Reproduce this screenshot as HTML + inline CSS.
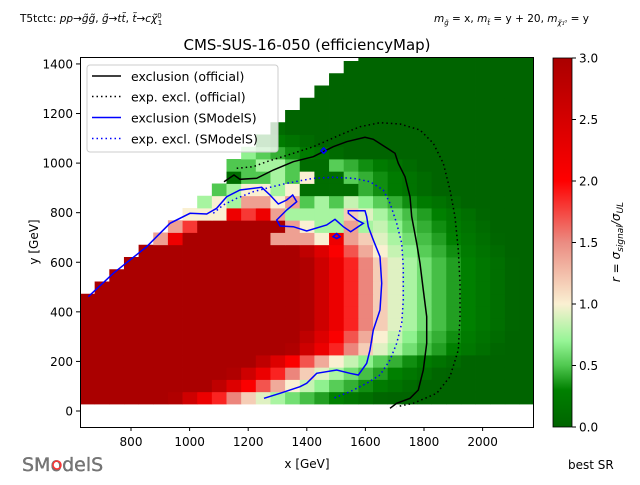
<!DOCTYPE html>
<html><head><meta charset="utf-8">
<style>
body{margin:0;background:#fff;}
svg text{font-family:"DejaVu Sans","Liberation Sans",sans-serif;}
</style></head>
<body>
<svg id="s" width="640" height="480" xmlns="http://www.w3.org/2000/svg">
<g id="cells"></g>
<defs>
<linearGradient id="cb" x1="0" y1="1" x2="0" y2="0">
<stop offset="0" stop-color="#006400"/>
<stop offset="0.1" stop-color="#008000"/>
<stop offset="0.167" stop-color="#50c850"/>
<stop offset="0.233" stop-color="#96f596"/>
<stop offset="0.333" stop-color="#faf0d2"/>
<stop offset="0.5" stop-color="#eb8c82"/>
<stop offset="0.667" stop-color="#ff0000"/>
<stop offset="1" stop-color="#aa0000"/>
</linearGradient>
</defs>
<g fill="none" stroke-width="1.5">
<polyline id="bs" stroke="#000"/>
<polyline id="bd" stroke="#000" stroke-dasharray="1.5,3"/>
<polyline id="ls" stroke="#0000ff"/>
<polyline id="ld" stroke="#0000ff" stroke-dasharray="1.5,3"/>
<polygon points="321,150.7 323.7,148 326.3,150.7 323.7,153.3" stroke="#0000ff"/>
<polygon points="333,236.7 336.7,233.5 340,236.7 336.7,238.5" stroke="#0000ff"/>
</g>
<rect x="80.5" y="57.5" width="453" height="370" fill="none" stroke="#000"/>
<g stroke="#000" id="ticks"></g>
<g font-size="12" id="labels"></g>
<!-- legend -->
<rect x="87" y="65" width="191" height="87" rx="3" fill="#fff" fill-opacity="0.8" stroke="#ccc"/>
<g stroke-width="1.5">
<line x1="92" y1="76" x2="121" y2="76" stroke="#000"/>
<line x1="92" y1="96.5" x2="121" y2="96.5" stroke="#000" stroke-dasharray="1.5,3"/>
<line x1="92" y1="117.5" x2="121" y2="117.5" stroke="#0000ff"/>
<line x1="92" y1="138.5" x2="121" y2="138.5" stroke="#0000ff" stroke-dasharray="1.5,3"/>
</g>
<g font-size="12.5">
<text x="131" y="81">exclusion (official)</text>
<text x="131" y="101.5">exp. excl. (official)</text>
<text x="131" y="122.5">exclusion (SModelS)</text>
<text x="131" y="143.5">exp. excl. (SModelS)</text>
</g>
<text x="307" y="50" font-size="15" text-anchor="middle">CMS-SUS-16-050 (efficiencyMap)</text>
<text x="20" y="22" font-size="10.5">T5tctc: <tspan font-style="italic">pp</tspan>→<tspan font-style="italic">g̃g̃</tspan>, <tspan font-style="italic">g̃</tspan>→<tspan font-style="italic">tt̃</tspan>, <tspan font-style="italic">t̃</tspan>→<tspan font-style="italic">cχ̃</tspan><tspan font-size="7" dy="-4">0</tspan><tspan font-size="7" dx="-4" dy="7">1</tspan></text>
<text x="434" y="22" font-size="10.5" font-style="italic">m<tspan font-size="7" dy="3">g̃</tspan><tspan dy="-3" font-style="normal"> = x, </tspan>m<tspan font-size="7" dy="3">t̃</tspan><tspan dy="-3" font-style="normal"> = y + 20, </tspan>m<tspan font-size="7" dy="3">χ̃₁⁰</tspan><tspan dy="-3" font-style="normal"> = y</tspan></text>
<text x="307" y="468" font-size="12" text-anchor="middle">x [GeV]</text>
<text transform="translate(38,242) rotate(-90)" font-size="12" text-anchor="middle">y [GeV]</text>
<rect x="553" y="58" width="19" height="369" fill="url(#cb)" stroke="#000" stroke-width="0.8"/>
<text transform="translate(620,242) rotate(-90)" font-size="12" text-anchor="middle" font-style="italic">r = σ<tspan font-size="9" dy="3">signal</tspan><tspan dy="-3">/σ</tspan><tspan font-size="9" dy="3">UL</tspan></text>
<text x="568" y="469" font-size="12">best SR</text>
<text x="22" y="471" font-size="19" fill="#777" stroke="#555" stroke-width="0.3">SModelS</text>
<circle cx="57" cy="465" r="4" fill="none" stroke="#f33" stroke-width="1.5"/>
</svg>
<script>
const NS="http://www.w3.org/2000/svg";
function el(t,a,p){const e=document.createElementNS(NS,t);for(const k in a)e.setAttribute(k,a[k]);if(p)p.appendChild(e);return e;}
const stops=[[0,[0,100,0]],[0.3,[0,128,0]],[0.5,[80,200,80]],[0.7,[150,245,150]],[1,[250,240,210]],[1.5,[235,140,130]],[2,[255,0,0]],[3,[170,0,0]]];
function col(r){r=Math.max(0,Math.min(3,r));for(let i=0;i<stops.length-1;i++){const[a,ca]=stops[i],[b,cb]=stops[i+1];if(r<=b){const t=(r-a)/(b-a);return`rgb(${ca.map((c,k)=>Math.round(c+(cb[k]-c)*t)).join(',')})`;}}return'rgb(170,0,0)';}
const LV={D:3,R:2.2,r:1.8,P:1.4,C:1.0,L:0.75,G:0.5,g:0.35,K:0.1};
const OV={13:"PRDDDDDDPPPCRP",14:"PrDDDDDDPCLLPL",15:"CCCRrRPLLLL",16:"LCLPPCPGLG",17:"GLCCLCKKKK",18:"KGGLGCKK",19:"GGLLGKK"};
const B=[11.5,14,15.5,17,19.5,20,20.5,20.5,20.5,20.5,20.5,20.5,20,19.5,19,18.5,17,15,15,14,9,7,5,4,3,2,1,0,0];
const g=document.getElementById('cells');
const cw=14.65,ch=12.25;
for(let j=0;j<29;j++){
 const start=j<9?0:Math.round((j-9)*18/19)+1;
 for(let i=start;i<31;i++){
  const d=i-B[j];
  let r=d<0?1+(-d)*0.35:(d<3?1-d*0.16:0.52-(d-3)*0.09);
  if(OV[j]&&i-start<OV[j].length)r=LV[OV[j][i-start]];
  let y=404-ch*(j+1),h=ch;
  if(y<58){h-=58-y;y=58;}
  if(h<=0)continue;
  let w=cw;const x=80+cw*i;if(x+w>533)w=533-x;
  el('rect',{x:x.toFixed(2),y:y.toFixed(2),width:(w+0.4).toFixed(2),height:(h+0.4).toFixed(2),fill:col(r)},g);
 }
}
function pts(id,a){document.getElementById(id).setAttribute('points',a.map(p=>`${(80+p[0]/3).toFixed(1)},${(50+p[1]/3).toFixed(1)}`).join(' '));}
pts('bs',[[432,395],[462,375],[480,388],[530,385],[580,360],[640,335],[700,320],[760,290],[800,275],[855,262],[880,268],[930,300],[945,310],[955,340],[975,380],[990,440],[995,500],[1010,580],[1020,640],[1030,720],[1040,800],[1040,880],[1030,960],[1015,1020],[990,1045],[950,1060],[930,1075]]);
pts('bd',[[470,355],[520,350],[560,335],[640,310],[700,290],[780,255],[840,230],[900,218],[960,222],[1020,240],[1060,280],[1090,340],[1110,420],[1125,500],[1135,600],[1140,700],[1140,800],[1135,900],[1110,980],[1070,1030],[1000,1060],[950,1070]]);
pts('ls',[[25,740],[100,670],[200,590],[270,520],[330,490],[380,492],[410,475],[440,440],[480,420],[545,412],[570,435],[595,462],[620,450],[638,435],[650,455],[620,480],[590,510],[600,528],[640,530],[680,543],[740,525],[765,508],[790,530],[812,545],[850,520],[830,510],[805,490],[805,482],[855,482],[860,500],[865,530],[880,570],[900,620],[905,700],[900,780],[880,840],[870,900],[860,940],[835,975],[810,970],[770,960],[710,970],[680,1000],[660,1010],[600,1030],[552,1045]]);
pts('ld',[[400,490],[430,465],[470,445],[520,425],[570,412],[620,400],[700,385],[760,382],[820,385],[870,395],[910,420],[930,460],[950,520],[965,580],[970,650],[970,750],[965,820],[950,880],[930,930],[900,975],[860,1000],[810,1025],[760,1045]]);
const tk=document.getElementById('ticks'),lb=document.getElementById('labels');
for(let v=800;v<=2000;v+=200){const x=131+(v-800)*0.2930;el('line',{x1:x,y1:427,x2:x,y2:431},tk);const t=el('text',{x:x,y:446,'text-anchor':'middle'},lb);t.textContent=v;}
for(let v=0;v<=1400;v+=200){const y=411-v*0.2479;el('line',{x1:76,y1:y,x2:80,y2:y},tk);const t=el('text',{x:73,y:y+4.5,'text-anchor':'end'},lb);t.textContent=v;}
for(let k=0;k<=6;k++){const v=k*0.5;const y=427-v*123;el('line',{x1:572,y1:y,x2:576,y2:y},tk);const t=el('text',{x:579,y:y+4.5},lb);t.textContent=v.toFixed(1);}
</script>
</body></html>
